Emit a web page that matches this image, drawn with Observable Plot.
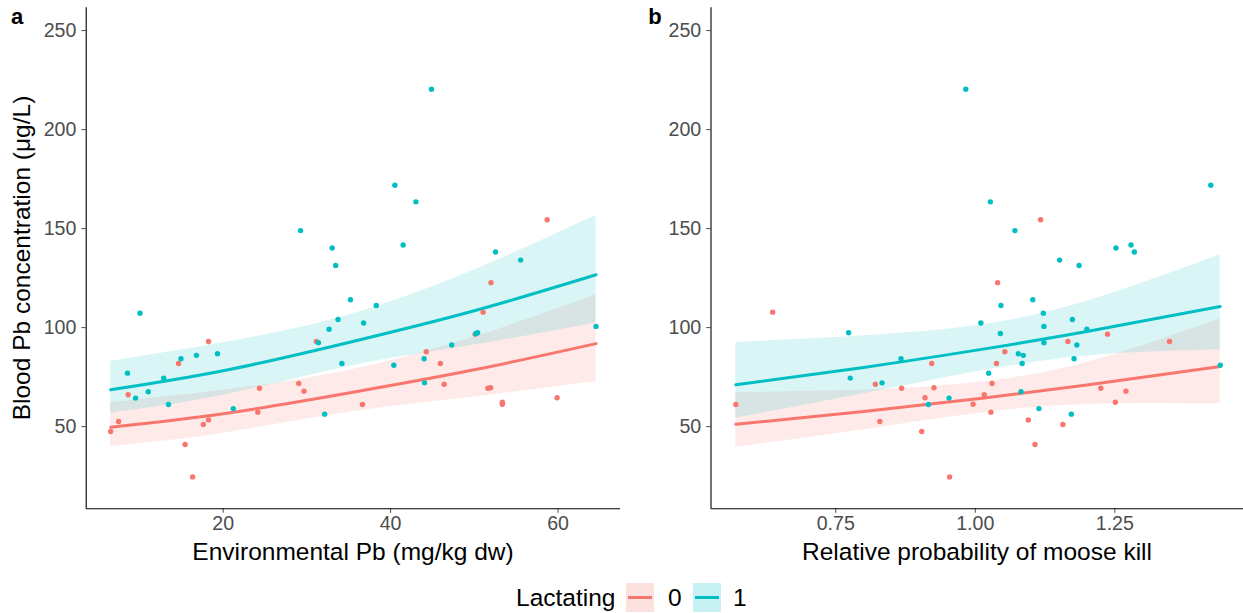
<!DOCTYPE html>
<html><head><meta charset="utf-8">
<script src="https://cdn.jsdelivr.net/npm/d3@7"></script>
<script src="https://cdn.jsdelivr.net/npm/@observablehq/plot@0.6"></script>
<style>
body{margin:0;background:#fff;font-family:"Liberation Sans",Arial,sans-serif;}
#wrap{position:relative;width:1243px;height:613px;overflow:hidden;background:#fff}
.abs{position:absolute;white-space:nowrap;line-height:1}
.title{font-size:24.5px;color:#000}
.key{position:absolute;width:28px;height:29px}
.key span{position:absolute;left:2px;right:2px;top:13px;height:3px}
</style></head><body>
<div id="wrap"></div>
<script>
// ---- data ----
const lactating = [0,0,0,0,0,0,0,0,0,0,0,0,0,0,0,0,0,0,0,0,0,0,0,0,0,0,0,
                   1,1,1,1,1,1,1,1,1,1,1,1,1,1,1,1,1,1,1,1,1,1,1,1,1,1,1,1,1,1,1,1,1,1];
const envPb = [58.7,51.99,51.05,50.1,18.25,31.13,44.26,14.67,45.94,29.03,46.4,51.95,24.34,51.62,29.65,8.65,59.89,53.35,53.35,36.64,24.14,18.25,7.51,17.63,6.56,15.45,16.35,
               44.88,40.51,43.02,29.24,41.5,33.02,52.53,55.53,33.44,35.2,38.29,10.07,33.72,36.77,64.54,32.65,50.39,50.2,31.38,47.3,19.32,16.81,14.96,44.0,34.18,40.39,8.58,12.9,44.05,11.05,9.53,13.47,21.21,32.12];
const probKill = [1.117,1.040,0.637,1.237,1.166,1.348,1.053,0.922,1.038,1.030,0.821,0.926,0.868,1.225,1.270,1.016,0.910,1.251,0.996,0.571,1.028,1.095,0.829,1.157,0.904,1.107,0.954,
                  0.983,1.422,1.027,1.071,1.279,1.252,1.285,1.151,1.186,1.103,1.046,1.122,1.174,1.010,1.123,1.200,0.773,1.045,1.123,1.182,1.077,1.086,0.867,1.177,1.084,1.439,1.024,0.776,0.833,1.082,0.953,0.916,1.114,1.172];
const bloodPb = [154.5,122.7,107.8,96.7,93.0,93.0,87.8,81.9,81.9,71.8,71.4,69.6,69.4,69.4,67.9,66.1,64.6,62.3,61.3,61.2,57.3,53.4,52.6,51.1,47.5,41.0,24.6,
                 220.4,171.9,163.5,149.0,141.7,140.2,138.2,134.1,131.4,114.1,111.2,107.3,104.1,102.3,100.6,99.2,97.4,97.0,92.4,91.2,86.8,86.0,84.3,84.3,81.9,81.0,77.0,74.5,72.1,67.6,64.4,61.2,59.1,56.3];

// fitted curves and confidence bands (panel a)
const envGrid = [6.56, 20, 35, 50, 64.54];
const envFit0 = [49.7, 56.5, 67.0, 78.7, 91.9];
const envLo0  = [40.0, 46.7, 57.3, 65.0, 72.8];
const envHi0  = [62.2, 68.4, 78.4, 95.2, 116.6];
const envFit1 = [68.6, 78.2, 92.5, 108.5, 126.7];
const envLo1  = [56.8, 65.8, 80.4, 91.2, 102.3];
const envHi1  = [82.9, 92.3, 106.4, 129.1, 156.6];
// panel b
const probGrid = [0.571, 0.8, 1.0, 1.2, 1.439];
const probFit0 = [51.2, 57.6, 63.9, 71.0, 80.4];
const probLo0  = [39.6, 48.4, 56.5, 61.2, 61.5];
const probHi0  = [67.2, 68.5, 72.2, 82.4, 104.3];
const probFit1 = [71.1, 79.9, 88.5, 98.0, 110.7];
const probLo1  = [54.3, 66.6, 77.6, 85.7, 88.8];
const probHi1  = [92.5, 95.9, 100.9, 113.3, 136.8];

const yTicks = [50, 100, 150, 200, 250];
const envTicks = [20, 40, 60];
const probTicks = [0.75, 1.00, 1.25];
const groups = ["0", "1"];
const groupColors = ["#F8766D", "#00BFC4"];
const yTitle = "Blood Pb concentration (μg/L)";
const xTitleA = "Environmental Pb (mg/kg dw)";
const xTitleB = "Relative probability of moose kill";
const legendTitle = "Lactating";

// ---- build ----
const wrap = document.getElementById("wrap");
const FONT = "Liberation Sans, Arial, sans-serif";

function bandRows(grid, fit0, lo0, hi0, fit1, lo1, hi1) {
  const rows = [];
  grid.forEach((x, i) => rows.push({x, fit: fit0[i], lo: lo0[i], hi: hi0[i], g: "0"}));
  grid.forEach((x, i) => rows.push({x, fit: fit1[i], lo: lo1[i], hi: hi1[i], g: "1"}));
  return rows;
}

function panel(xs, band, xDomain, xTicks, fmt, opts) {
  const pts = bloodPb.map((b, i) => ({x: xs[i], y: b, g: String(lactating[i])}));
  return Plot.plot({
    width: opts.width, height: 570,
    marginLeft: opts.marginLeft, marginRight: 0, marginTop: 7.3, marginBottom: 61.7,
    style: {fontFamily: FONT, background: "transparent", overflow: "visible"},
    x: {domain: xDomain, label: null},
    y: {domain: [8.5, 261.5], label: null},
    color: {domain: groups, range: groupColors},
    marks: [
      Plot.areaY(band, {x: "x", y1: "lo", y2: "hi", fill: "g", fillOpacity: 0.15, curve: "natural"}),
      Plot.lineY(band, {x: "x", y: "fit", stroke: "g", strokeWidth: 3, curve: "natural"}),
      Plot.dot(pts, {x: "x", y: "y", fill: "g", r: 2.7}),
      Plot.axisX({ticks: xTicks, tickFormat: fmt, tickSize: 4.5, tickPadding: 3, fontSize: 19.6, color: "#4D4D4D", label: null}),
      Plot.axisY({ticks: yTicks, tickSize: 4.3, tickPadding: 5.5, fontSize: 19.6, color: "#4D4D4D", label: null}),
      Plot.ruleX([xDomain[0]], {stroke: "#000", strokeWidth: 1.1}),
      Plot.ruleY([8.5], {stroke: "#000", strokeWidth: 1.1})
    ]
  });
}

const bandA = bandRows(envGrid, envFit0, envLo0, envHi0, envFit1, envLo1, envHi1);
const bandB = bandRows(probGrid, probFit0, probLo0, probHi0, probFit1, probLo1, probHi1);

const pa = panel(envPb, bandA, [3.64, 67.46], envTicks, d => String(d), {width: 620, marginLeft: 85.7});
pa.style.position = "absolute"; pa.style.left = "0px"; pa.style.top = "0px";
wrap.appendChild(pa);

const pb = panel(probKill, bandB, [0.5265, 1.4806], probTicks, d3.format(".2f"), {width: 623, marginLeft: 90.5});
pb.style.position = "absolute"; pb.style.left = "620px"; pb.style.top = "0px";
wrap.appendChild(pb);

function addText(txt, css, cls) {
  const d = document.createElement("div");
  d.className = "abs " + (cls || "");
  d.textContent = txt;
  Object.assign(d.style, css);
  wrap.appendChild(d);
  return d;
}
addText(yTitle, {left: "22px", top: "258px", transform: "translate(-50%,-50%) rotate(-90deg)"}, "title");
addText(xTitleA, {left: "353px", top: "552px", transform: "translate(-50%,-50%)"}, "title");
addText(xTitleB, {left: "977px", top: "552px", transform: "translate(-50%,-50%)"}, "title");
addText("a", {left: "17px", top: "17px", transform: "translate(-50%,-50%)", fontWeight: "bold", fontSize: "22px"});
addText("b", {left: "655px", top: "17px", transform: "translate(-50%,-50%)", fontWeight: "bold", fontSize: "22px"});

// legend
addText(legendTitle, {left: "516px", top: "598px", transform: "translate(0,-50%)"}, "title");
const keyX = [626, 693], labX = [668, 733];
groups.forEach((g, i) => {
  const k = document.createElement("div");
  k.className = "key";
  k.style.left = keyX[i] + "px"; k.style.top = "583px";
  k.style.background = d3.color(groupColors[i]).copy({opacity: 0.22}).formatRgb();
  const s = document.createElement("span");
  s.style.background = groupColors[i];
  k.appendChild(s);
  wrap.appendChild(k);
  addText(g, {left: labX[i] + "px", top: "598px", transform: "translate(0,-50%)"}, "title");
});
</script>
</body></html>
